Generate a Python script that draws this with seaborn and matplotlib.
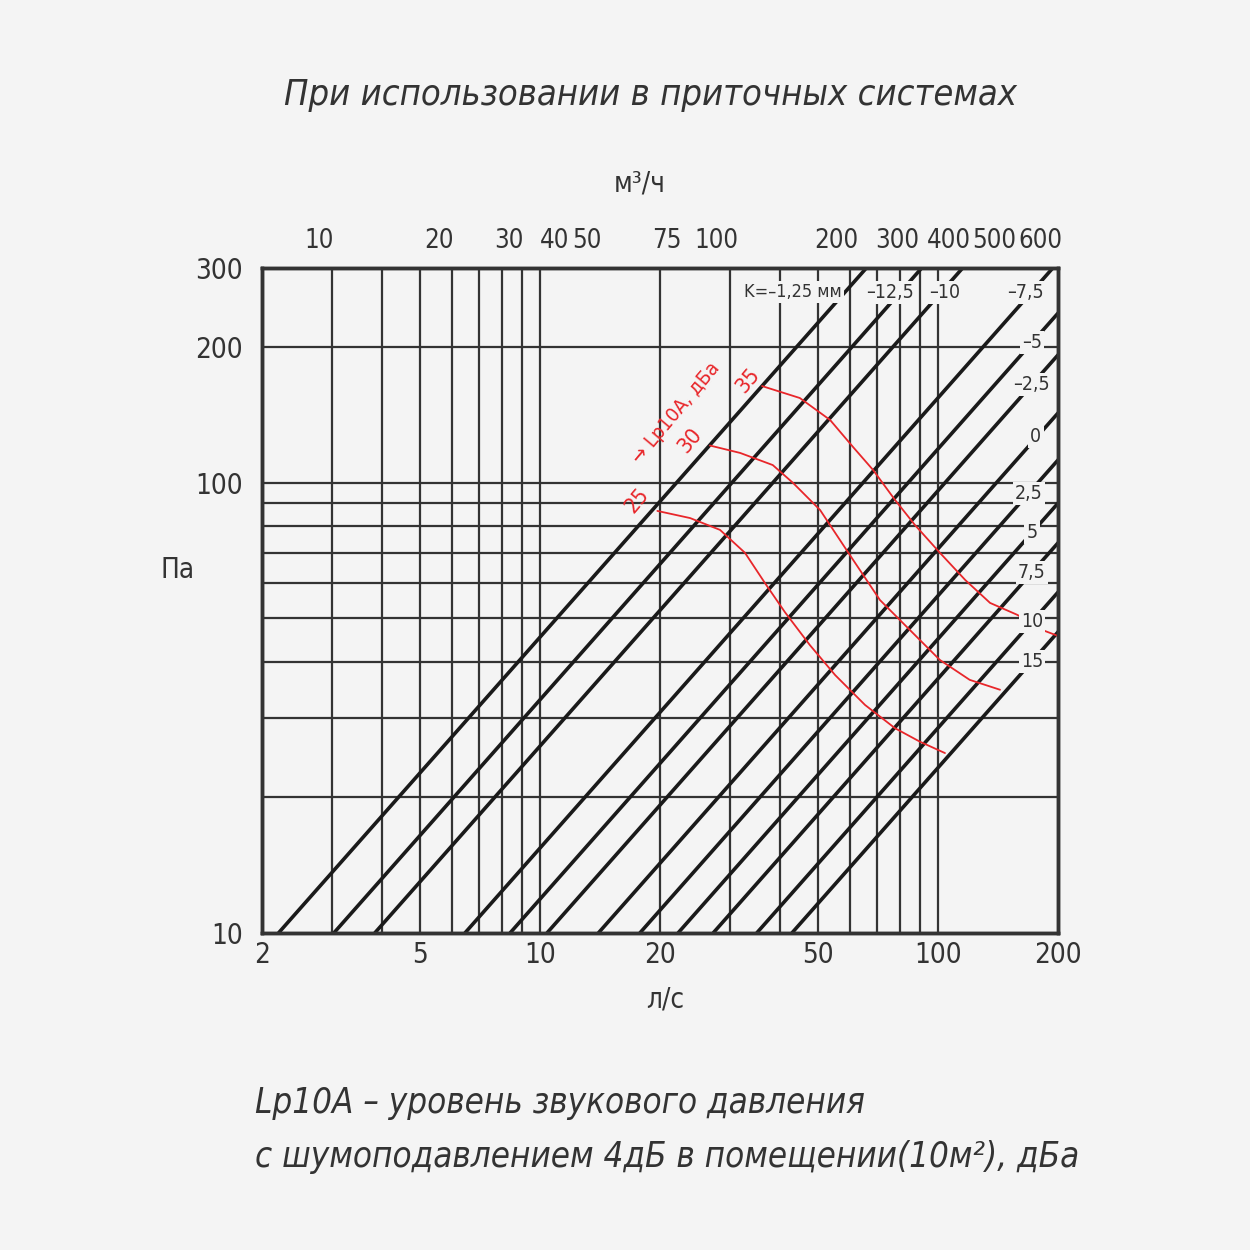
import matplotlib
matplotlib.use("Agg")
import matplotlib.pyplot as plt
from matplotlib.transforms import ScaledTranslation
import numpy as np
import pandas as pd
import seaborn as sns

# диагонали (положение регулятора K): расход, л/с, при 10 Па
k_labels = ["K=–1,25 мм", "–12,5", "–10", "–7,5", "–5", "–2,5", "0", "2,5", "5", "7,5", "10", "15"]
q_at_10pa = [2.2, 3.03, 3.84, 6.47, 8.4, 10.4, 14.0, 17.8, 22.2, 27.2, 35.0, 42.9]

# линии сетки
grid_q = [3, 4, 5, 6, 7, 8, 9, 10, 20, 30, 40, 50, 60, 70, 80, 90, 100]
grid_p = [20, 30, 40, 50, 60, 70, 80, 90, 100, 200]

# подписи осей
bottom_ticks = [2, 5, 10, 20, 50, 100, 200]
left_ticks = [10, 100, 200, 300]
top_ticks = [10, 20, 30, 40, 50, 75, 100, 200, 300, 400, 500, 600]  # м3/ч

# кривые Lp10A
lp25_q = [19.7, 23.8, 28.3, 32.7, 36.7, 41.2, 47.6, 55.1, 65.5, 77.9, 90, 104]
lp25_p = [86.6, 83.5, 78.6, 69.9, 59.9, 51.6, 43.6, 37.4, 32.1, 28.5, 26.6, 25.1]
lp30_q = [26.7, 31.8, 38.4, 43.2, 50.5, 60, 71.4, 84.9, 101, 120, 143]
lp30_p = [121, 116.5, 109.5, 99.9, 87.0, 69.1, 54.9, 47.1, 40.4, 36.5, 34.7]
lp35_q = [36.1, 44.9, 53.5, 61.1, 68.6, 77.9, 87.4, 101, 117, 135, 158, 185, 200]
lp35_p = [164, 154.3, 137.9, 120.1, 106.8, 91.6, 80.6, 69.9, 60.8, 54.1, 50.9, 46.9, 45.7]

bg = "#f4f4f4"
ink = "#333333"
red = "#e8262a"

sns.set_style("white")
plt.rcParams["font.family"] = ["DejaVu Sans"]
plt.rcParams["font.stretch"] = "condensed"

fig = plt.figure(figsize=(12.5, 12.5), dpi=100, facecolor=bg)
ax = fig.add_axes([0.2096, 0.2536, 0.6368, 0.532])
ax.set_facecolor(bg)
ax.set_xscale("log")
ax.set_yscale("log")
ax.set_xlim(2, 200)
ax.set_ylim(10, 300)

for q in grid_q:
    ax.axvline(q, color=ink, lw=1.6, zorder=1)
for p in grid_p:
    ax.axhline(p, color=ink, lw=1.6, zorder=1)

# диагонали с наклоном 1 в лог-лог координатах
for q0 in q_at_10pa:
    ax.plot([q0, q0 * 30], [10, 300], color="#1a1a1a", lw=2.6, zorder=2, solid_capstyle="butt")

box = dict(facecolor=bg, edgecolor="none", pad=1.5)
nudge = {0: (-3, 0), 1: (-10, 0), 2: (3, 0), 3: (-6, 0), 6: (4, 6), 7: (-3, -4)}
for i, (lab, q0) in enumerate(zip(k_labels, q_at_10pa)):
    if i < 4:
        qq, pp = q0 * 26.5, 265
        ha = "right" if i == 0 else "center"
    else:
        qq, pp = 172, 10 * 172 / q0
        ha = "center"
    dx, dy = nudge.get(i, (0, 0))
    ax.annotate(lab, (qq, pp), xytext=(dx, dy), textcoords="offset pixels", ha=ha, va="center",
                fontsize=13 if i == 0 else 14, color=ink, bbox=box, zorder=4)

curves = pd.DataFrame({
    "q": lp25_q + lp30_q + lp35_q,
    "p": lp25_p + lp30_p + lp35_p,
    "lvl": ["25"] * len(lp25_q) + ["30"] * len(lp30_q) + ["35"] * len(lp35_q),
})
sns.lineplot(data=curves, x="q", y="p", hue="lvl", palette=[red] * 3, sort=False,
             estimator=None, lw=1.3, legend=False, ax=ax, zorder=3)

ax.text(17.5, 91.6, "25", color=red, fontsize=16, rotation=50, ha="center", va="center", zorder=5)
ax.text(23.8, 124.3, "30", color=red, fontsize=16, rotation=50, ha="center", va="center", zorder=5)
ax.text(33.2, 169, "35", color=red, fontsize=16, rotation=50, ha="center", va="center", zorder=5)
ax.text(22.0, 143, "→ Lp10A, дБа", color=red, fontsize=14.5, rotation=50, ha="center", va="center", zorder=5)

ax.set_xticks(bottom_ticks)
ax.set_xticklabels([str(v) for v in bottom_ticks])
ax.set_yticks(left_ticks)
ax.set_yticklabels([str(v) for v in left_ticks])
ax.minorticks_off()
ax.tick_params(length=0, labelsize=20, labelcolor=ink)
ax.tick_params(axis="x", pad=6)
ax.tick_params(axis="y", pad=14)
ax.set_xlabel("")
ax.set_ylabel("")

top = ax.twiny()
top.set_xscale("log")
top.set_xlim(2 * 3.6, 200 * 3.6)
top.set_xticks(top_ticks)
top.set_xticklabels([str(v) for v in top_ticks])
top.minorticks_off()
top.tick_params(length=0, labelsize=18.5, labelcolor=ink, pad=10)
# слегка раздвинуть тесные подписи верхней шкалы
shift = {"40": -4, "50": -10, "300": -9, "400": -8, "500": -1, "600": 14}
for lbl in top.get_xticklabels():
    if lbl.get_text() in shift:
        lbl.set_transform(lbl.get_transform() + ScaledTranslation(shift[lbl.get_text()] / 100, 0, fig.dpi_scale_trans))

for a in (ax, top):
    for s in a.spines.values():
        s.set_color(ink)
        s.set_linewidth(2.5)

fig.text(0.52, 1 - 95 / 1250, "При использовании в приточных системах", ha="center", va="center",
         fontsize=26, style="italic", color=ink)
fig.text(640 / 1250, 1 - 183 / 1250, "м³/ч", ha="center", va="center", fontsize=20, color=ink)
fig.text(665 / 1250, 1 - 1000 / 1250, "л/с", ha="center", va="center", fontsize=20, color=ink)
fig.text(178 / 1250, 1 - 570 / 1250, "Па", ha="center", va="center", fontsize=20, color=ink)
fig.text(255 / 1250, 1 - 1103 / 1250, "Lp10A – уровень звукового давления", ha="left", va="center",
         fontsize=25, style="italic", color=ink)
fig.text(255 / 1250, 1 - 1157 / 1250, "с шумоподавлением 4дБ в помещении(10м²), дБа", ha="left",
         va="center", fontsize=25, style="italic", color=ink)

fig.savefig("out.png", dpi=100, facecolor=bg)
